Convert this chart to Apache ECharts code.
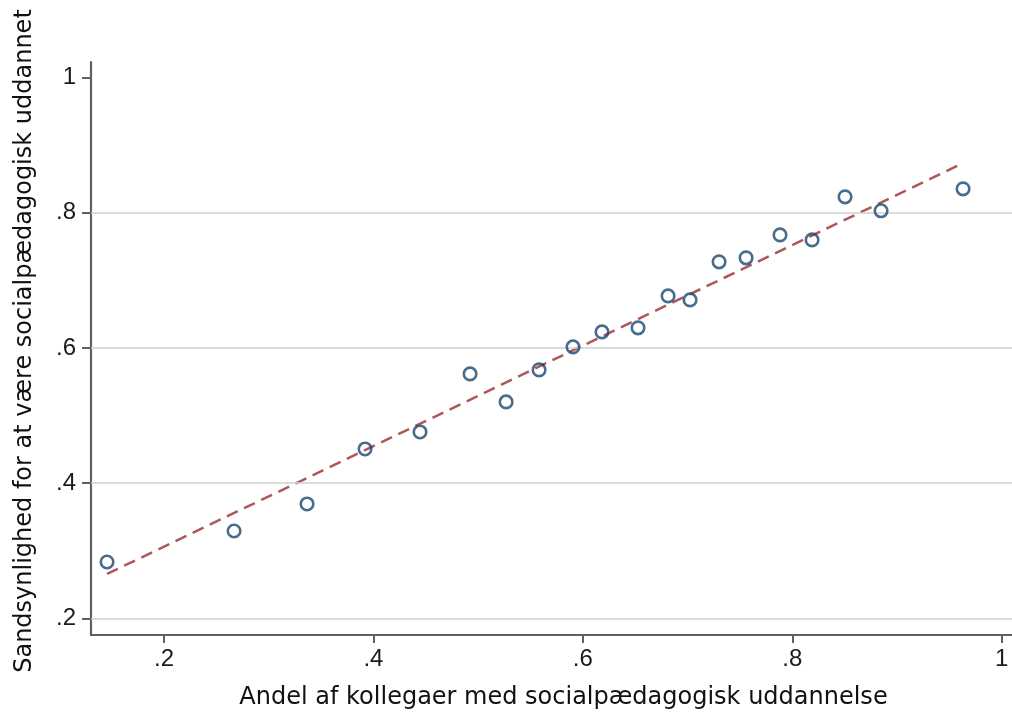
<!DOCTYPE html>
<html>
<head>
<meta charset="utf-8">
<script src="https://cdn.jsdelivr.net/npm/echarts@6/dist/echarts.min.js"></script>
<style>
html,body{margin:0;padding:0;background:#fff;}
#chart{width:1012px;height:714px;}
</style>
</head>
<body>
<div id="chart"></div>
<script>
// Data
const pointX = [0.1456, 0.2669, 0.3366, 0.3920, 0.4445, 0.4923, 0.5267, 0.5582, 0.5906, 0.6183,
                0.6527, 0.6814, 0.7024, 0.7301, 0.7559, 0.7883, 0.8189, 0.8504, 0.8848, 0.9631];
const pointY = [0.2833, 0.3292, 0.3692, 0.4506, 0.4758, 0.5617, 0.5202, 0.5676, 0.6016, 0.6238,
                0.6298, 0.6771, 0.6712, 0.7275, 0.7334, 0.7674, 0.7600, 0.8237, 0.8030, 0.8355];
const fitX = [0.1456, 0.9631];
const fitY = [0.2656, 0.8736];
const xTickValues = [0.2, 0.4, 0.6, 0.8, 1];
const xTickLabels = ['.2', '.4', '.6', '.8', '1'];
const yTickValues = [0.2, 0.4, 0.6, 0.8, 1];
const yTickLabels = ['.2', '.4', '.6', '.8', '1'];
const gridLineValues = [0.2, 0.4, 0.6, 0.8];
const xTitle = 'Andel af kollegaer med socialpædagogisk uddannelse';
const yTitle = 'Sandsynlighed for at være socialpædagogisk uddannet';

const scatterData = pointX.map((x, i) => [x, pointY[i]]);
const fitData = fitX.map((x, i) => [x, fitY[i]]);

function labelFor(values, labels) {
  return function (v) {
    for (let i = 0; i < values.length; i++) {
      if (Math.abs(values[i] - v) < 1e-6) return labels[i];
    }
    return '';
  };
}

const axisColor = '#606060';
const tickFont = { fontFamily: '"Liberation Sans", Arial, sans-serif', fontSize: 24, color: '#1b1b1b' };
const titleFont = '24px "DejaVu Sans", Verdana, sans-serif';

const chart = echarts.init(document.getElementById('chart'), null, { renderer: 'canvas' });
chart.setOption({
  animation: false,
  backgroundColor: '#ffffff',
  grid: { left: 91, right: 0, top: 62, bottom: 79, containLabel: false },
  xAxis: {
    type: 'value',
    min: 0.13028,
    max: 1.00984,
    axisLine: { show: true, onZero: false, lineStyle: { color: axisColor, width: 2.2 } },
    axisTick: { show: true, customValues: xTickValues, length: 8, lineStyle: { color: axisColor, width: 2 } },
    axisLabel: { show: true, customValues: xTickValues, formatter: labelFor(xTickValues, xTickLabels), margin: 12, ...tickFont },
    splitLine: { show: false }
  },
  yAxis: {
    type: 'value',
    min: 0.17528,
    max: 1.02324,
    axisLine: { show: true, onZero: false, lineStyle: { color: axisColor, width: 2.2 } },
    axisTick: { show: true, customValues: yTickValues, length: 9, lineStyle: { color: axisColor, width: 2 } },
    axisLabel: { show: true, customValues: yTickValues, formatter: labelFor(yTickValues, yTickLabels), margin: 15, ...tickFont },
    splitLine: { show: false }
  },
  graphic: [
    {
      type: 'text',
      x: 563.5, y: 698,
      style: {
        text: xTitle,
        x: 0, y: 0,
        textAlign: 'center', textVerticalAlign: 'middle',
        font: titleFont,
        fill: '#111111'
      }
    },
    {
      type: 'text',
      x: 25, y: 341,
      rotation: Math.PI / 2,
      style: {
        text: yTitle,
        x: 0, y: 0,
        textAlign: 'center', textVerticalAlign: 'middle',
        font: titleFont,
        fill: '#111111'
      }
    }
  ],
  series: [
    {
      type: 'line',
      data: [],
      silent: true,
      markLine: {
        silent: true,
        symbol: ['none', 'none'],
        label: { show: false },
        lineStyle: { color: '#d0d0d0', type: 'solid', width: 1.5 },
        data: gridLineValues.map(v => ({ yAxis: v }))
      },
      z: 1
    },
    {
      type: 'line',
      data: fitData,
      showSymbol: false,
      symbol: 'none',
      silent: true,
      lineStyle: { color: '#b0565b', width: 2.5, type: [12, 7] },
      z: 3
    },
    {
      type: 'scatter',
      data: scatterData,
      symbol: 'circle',
      symbolSize: 12.5,
      itemStyle: { color: 'rgba(255,255,255,0)', borderColor: '#1a476f', borderWidth: 2.6 },
      z: 5
    }
  ]
});
</script>
</body>
</html>
